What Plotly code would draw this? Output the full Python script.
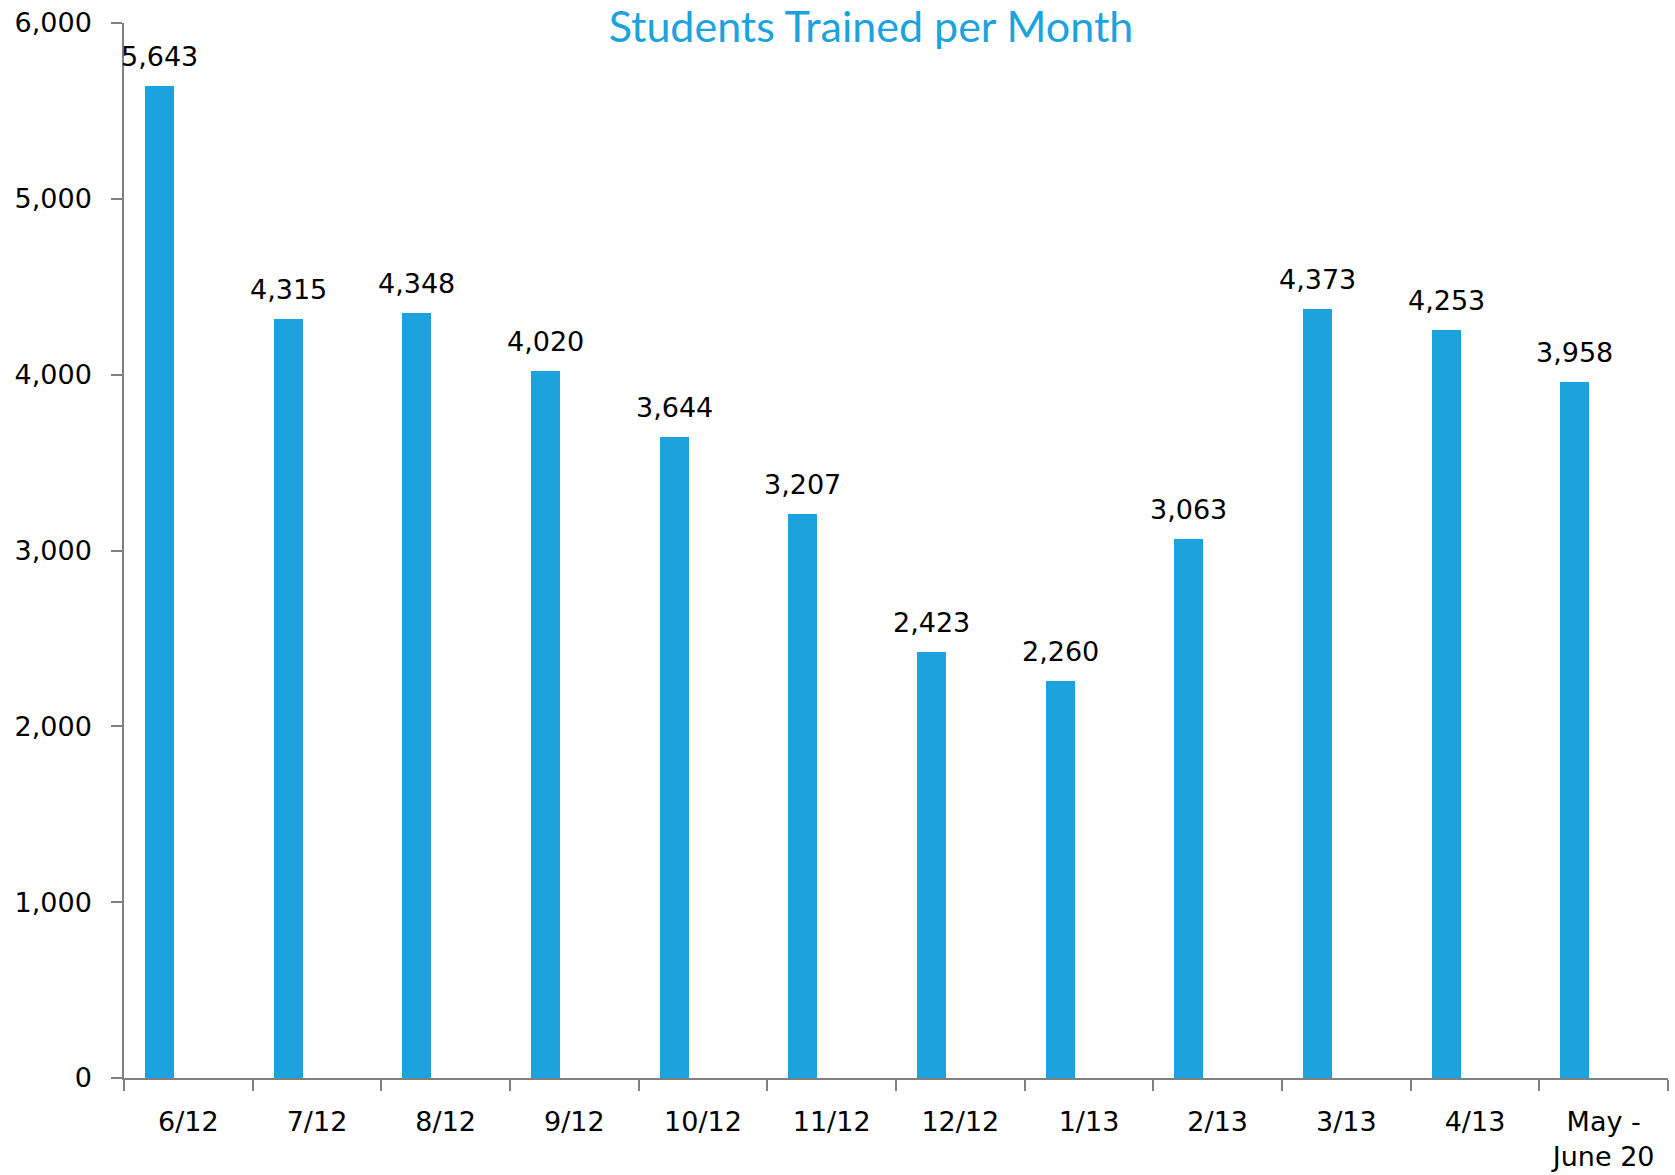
import plotly.graph_objects as go

# Monthly training counts
months = ["6/12", "7/12", "8/12", "9/12", "10/12", "11/12", "12/12",
          "1/13", "2/13", "3/13", "4/13", "May -<br>June 20"]
students = [5643, 4315, 4348, 4020, 3644, 3207, 2423, 2260, 3063, 4373, 4253, 3958]
y_ticks = [0, 1000, 2000, 3000, 4000, 5000, 6000]

BAR_COLOR = "#1ca3de"
AXIS_COLOR = "#808080"
FONT = "DejaVu Sans"
BAR_W = 0.225          # bar width as a fraction of the category slot
BAR_OFFSET = -1.5 * BAR_W  # bar sits left of the slot centre

fig = go.Figure()
fig.add_trace(go.Bar(
    x=months,
    y=students,
    width=BAR_W,
    offset=BAR_OFFSET,
    marker=dict(color=BAR_COLOR, line=dict(width=0)),
    hoverinfo="x+y",
))

# value labels above each bar
for i, v in enumerate(students):
    fig.add_annotation(
        x=i + BAR_OFFSET + BAR_W / 2, y=v,
        xref="x", yref="y",
        text=f"{v:,}",
        showarrow=False,
        yanchor="bottom",
        yshift=12,
        font=dict(family=FONT, size=27, color="#000000"),
    )

fig.update_layout(
    width=1675, height=1175,
    margin=dict(l=124, r=7, t=23, b=97),
    paper_bgcolor="white",
    plot_bgcolor="white",
    showlegend=False,
    bargap=0,
    title=dict(
        text="Students Trained per Month",
        x=871 / 1675, xanchor="center",
        y=1 - 27 / 1175, yanchor="middle",
        font=dict(family="Lato, Liberation Sans", size=43, color=BAR_COLOR),
    ),
    font=dict(family=FONT, size=27, color="#000000"),
)

fig.update_xaxes(
    type="category",
    range=[-0.5, len(months) - 0.5],
    automargin=False,
    showline=True, linecolor=AXIS_COLOR, linewidth=1.5,
    ticks="outside", ticklen=11, tickwidth=1.5, tickcolor=AXIS_COLOR,
    tickson="boundaries",
    ticklabelstandoff=19,
    showgrid=False, zeroline=False,
    tickfont=dict(family=FONT, size=27, color="#000000"),
)
fig.update_yaxes(
    range=[0, 6000],
    tickvals=y_ticks,
    tickformat=",d",
    automargin=False,
    showline=True, linecolor=AXIS_COLOR, linewidth=1.5,
    ticks="outside", ticklen=11, tickwidth=1.5, tickcolor=AXIS_COLOR,
    ticklabelstandoff=14,
    showgrid=False, zeroline=False,
    tickfont=dict(family=FONT, size=27, color="#000000"),
)

fig.write_html("out.html")
